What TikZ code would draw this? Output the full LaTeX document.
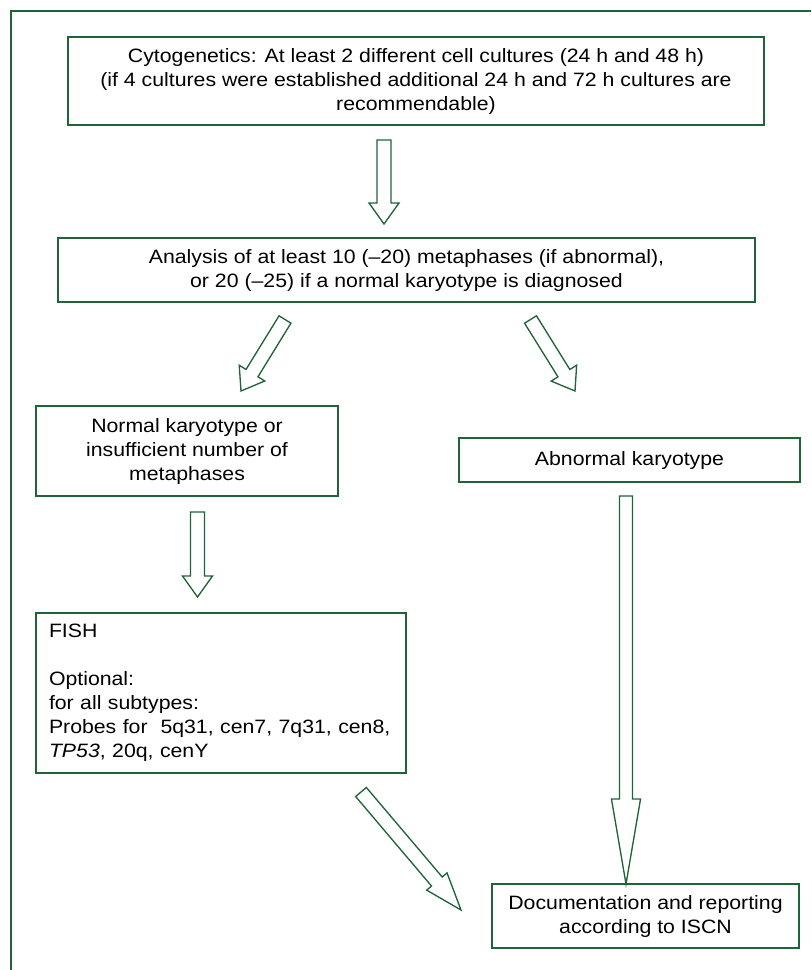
\documentclass[tikz,border=0pt]{standalone}
\usepackage{fontspec}
\setmainfont{Liberation Sans}[FakeStretch=1.1]
\usetikzlibrary{calc}
\definecolor{leaf}{HTML}{1F6437}

\tikzset{
    box/.style={draw=leaf, line width=1.2pt, align=center, inner sep=0pt, font=\fontsize{14.5}{18}\selectfont},
    fat/.style={draw=leaf, line width=1pt, fill=white, miter limit=20},
}

% hollow block arrow: tail, tip, shaft half width, head half width, head length
\newcommand{\hollowarrow}[5]{%
    \coordinate (ha) at ($(#2)!#5!(#1)$);
    \draw[fat] ($(#1)!#3!90:(#2)$) -- ($(ha)!#3!90:(#2)$) -- ($(ha)!#4!90:(#2)$) -- (#2)
        -- ($(ha)!#4!-90:(#2)$) -- ($(ha)!#3!-90:(#2)$) -- ($(#1)!#3!-90:(#2)$) -- cycle;}

\begin{document}
\begin{tikzpicture}[x=0.75pt, y=-0.75pt]
    \useasboundingbox (0,0) rectangle (811,970);

    % frame
    \draw[leaf, line width=1.2pt] (811,11) -- (11,11) -- (11,970);

    % boxes
    \node[box, minimum width=522pt, minimum height=66pt] (cyto) at (416,81)
        {Cytogenetics: At least 2 different cell cultures (24 h and 48 h)\\
         (if 4 cultures were established additional 24 h and 72 h cultures are\\
         recommendable)};
    \node[box, minimum width=522.75pt, minimum height=48pt] (analysis) at (406.5,270)
        {Analysis of at least 10 (–20) metaphases (if abnormal),\\
         or 20 (–25) if a normal karyotype is diagnosed};
    \node[box, minimum width=226.5pt, minimum height=67.5pt] (normal) at (187,451)
        {Normal karyotype or\\ insufficient number of\\ metaphases};
    \node[box, minimum width=255.75pt, minimum height=33pt] (abnormal) at (629.5,460)
        {Abnormal karyotype};
    \node[box, align=left, text width=258pt, minimum width=277.5pt, minimum height=120pt] (fish) at (221,693)
        {FISH\\[18pt]
         Optional:\\
         for all subtypes:\\
         Probes for\ \ 5q31, cen7, 7q31, cen8,\\
         \textit{TP53}, 20q, cenY};
    \node[box, minimum width=230.25pt, minimum height=48pt] (report) at (645.5,916)
        {Documentation and reporting\\ according to ISCN};

    % arrow ends
    \coordinate (t1) at (384,140);   \coordinate (p1) at (384,224);
    \coordinate (t2) at (285,319.5); \coordinate (p2) at (241,391);
    \coordinate (t3) at (530.5,319.5); \coordinate (p3) at (575,391);
    \coordinate (t4) at (197.5,512); \coordinate (p4) at (197.5,597);
    \coordinate (t5) at (626,496);   \coordinate (p5) at (626,884);
    \coordinate (t6) at (361,792);   \coordinate (p6) at (461,910);

    \foreach \t/\p/\w/\h/\l in {t1/p1/5.25pt/11.25pt/15.75pt, t2/p2/5.25pt/11.25pt/15.75pt,
        t3/p3/5.25pt/11.25pt/15.75pt, t4/p4/5.25pt/11.25pt/15.75pt,
        t5/p5/4.9pt/10.9pt/63.75pt, t6/p6/5.25pt/10pt/28pt}
        \hollowarrow{\t}{\p}{\w}{\h}{\l};

\end{tikzpicture}
\end{document}
